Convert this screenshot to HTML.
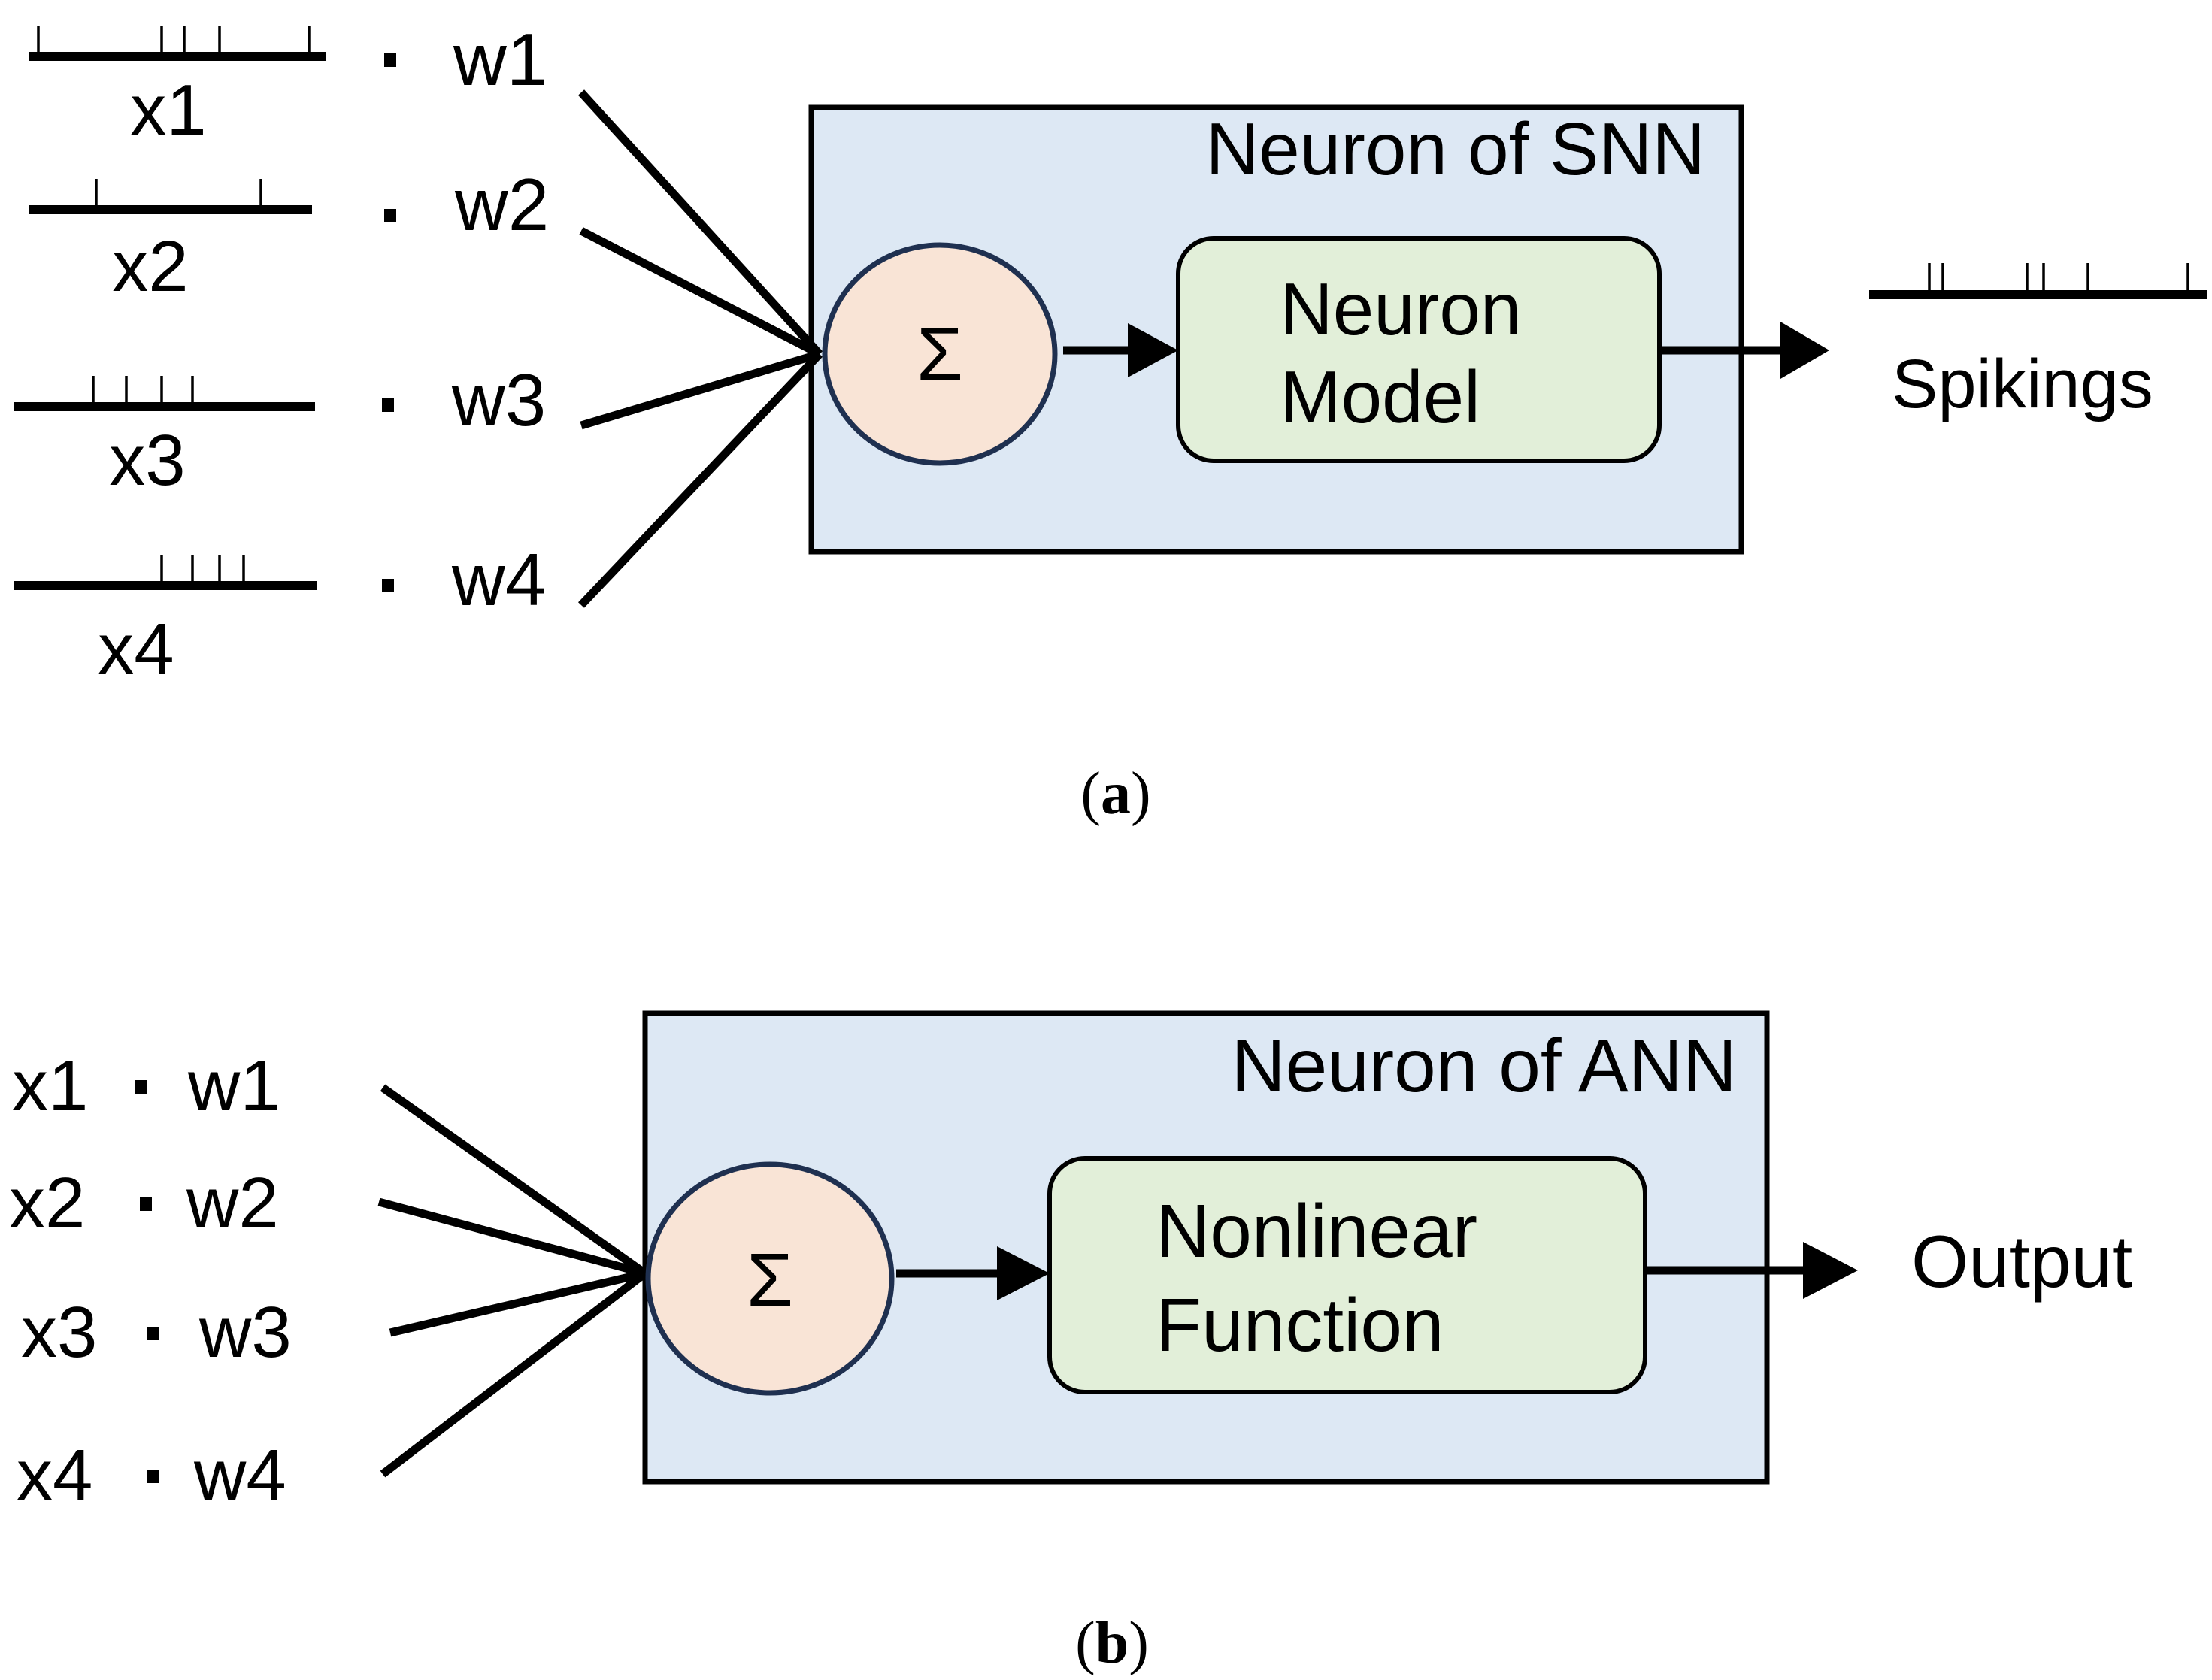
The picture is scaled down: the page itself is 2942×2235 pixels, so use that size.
<!DOCTYPE html>
<html><head><style>html,body{margin:0;padding:0;background:#fff}</style></head>
<body>
<svg width="2942" height="2230" viewBox="0 0 2942 2230" xmlns="http://www.w3.org/2000/svg" font-family="'Liberation Sans', sans-serif">
<rect width="2942" height="2230" fill="#fff"/>
<!-- Panel a -->
<g stroke="#000" stroke-width="12" fill="none">
<line x1="38" y1="75" x2="434" y2="75"/>
<line x1="38" y1="279" x2="415" y2="279"/>
<line x1="19" y1="541" x2="419" y2="541"/>
<line x1="19" y1="779" x2="422" y2="779"/>
<line x1="2486" y1="392" x2="2936" y2="392"/>
</g>
<g stroke="#000" stroke-width="3.5">
<path d="M51 75V34M215 75V34M245 75V34M292 75V34M411 75V34"/>
<path d="M128 279V238M347 279V238"/>
<path d="M124 541V500M168 541V500M215 541V500M256 541V500"/>
<path d="M215 779V738M256 779V738M292 779V738M324 779V738"/>
<path d="M2566 392V350M2584 392V350M2696 392V350M2718 392V350M2777 392V350M2910 392V350"/>
</g>
<g font-size="96" text-anchor="middle">
<text x="224" y="179">x1</text>
<text x="200" y="387">x2</text>
<text x="196" y="645">x3</text>
<text x="181" y="896">x4</text>
</g>
<g fill="#000">
<rect x="511" y="71" width="16" height="18"/>
<rect x="511" y="278" width="16" height="18"/>
<rect x="508" y="530" width="16" height="18"/>
<rect x="508" y="770" width="16" height="18"/>
</g>
<g font-size="98">
<text x="603" y="113">w1</text>
<text x="605" y="306">w2</text>
<text x="601" y="566">w3</text>
<text x="601" y="805">w4</text>
</g>
<rect x="1079" y="143" width="1237" height="591" fill="#dde8f4" stroke="#000" stroke-width="7"/>
<g stroke="#000" stroke-width="11" stroke-linecap="butt">
<line x1="773" y1="123" x2="1090" y2="471"/>
<line x1="773" y1="307" x2="1090" y2="471"/>
<line x1="773" y1="566" x2="1090" y2="471"/>
<line x1="773" y1="805" x2="1090" y2="471"/>
</g>
<text x="2268" y="232" font-size="98" text-anchor="end">Neuron of SNN</text>
<ellipse cx="1250" cy="471" rx="153" ry="145" fill="#f9e4d6" stroke="#1f3050" stroke-width="7"/>
<text x="1250" y="505" font-size="100" text-anchor="middle">Σ</text>
<path d="M1414 466H1510" stroke="#000" stroke-width="11"/>
<path d="M1500 430L1567 466L1500 502z" fill="#000"/>
<rect x="1567" y="317" width="640" height="296" rx="47" fill="#e2efd9" stroke="#000" stroke-width="6"/>
<text x="1702" y="445" font-size="98">Neuron</text>
<text x="1702" y="562" font-size="98">Model</text>
<path d="M2207 466H2380" stroke="#000" stroke-width="11"/>
<path d="M2368 428L2433 466L2368 504z" fill="#000"/>
<text x="2516" y="542" font-size="92">Spikings</text>
<text x="1484" y="1082" font-size="80" text-anchor="middle" font-family="'Liberation Serif', serif">(<tspan font-weight="bold">a</tspan>)</text>
<!-- Panel b -->
<rect x="858" y="1348" width="1492" height="623" fill="#dde8f4" stroke="#000" stroke-width="7"/>
<g stroke="#000" stroke-width="11">
<line x1="509" y1="1447" x2="858" y2="1694"/>
<line x1="504" y1="1599" x2="858" y2="1694"/>
<line x1="519" y1="1773" x2="858" y2="1694"/>
<line x1="509" y1="1961" x2="858" y2="1694"/>
</g>
<g font-size="96">
<text x="16" y="1477">x1</text>
<text x="12" y="1633">x2</text>
<text x="28" y="1805">x3</text>
<text x="22" y="1995">x4</text>
<text x="250" y="1477">w1</text>
<text x="248" y="1633">w2</text>
<text x="265" y="1805">w3</text>
<text x="258" y="1995">w4</text>
</g>
<g fill="#000">
<rect x="180" y="1437" width="16" height="18"/>
<rect x="186" y="1593" width="16" height="18"/>
<rect x="196" y="1765" width="16" height="18"/>
<rect x="196" y="1955" width="16" height="18"/>
</g>
<text x="2310" y="1452" font-size="100" text-anchor="end">Neuron of ANN</text>
<ellipse cx="1024" cy="1701" rx="162" ry="152" fill="#f9e4d6" stroke="#1f3050" stroke-width="7"/>
<text x="1024" y="1737" font-size="100" text-anchor="middle">Σ</text>
<path d="M1192 1694H1340" stroke="#000" stroke-width="11"/>
<path d="M1326 1658L1396 1694L1326 1730z" fill="#000"/>
<rect x="1396" y="1541" width="792" height="311" rx="47" fill="#e2efd9" stroke="#000" stroke-width="6"/>
<text x="1537" y="1672" font-size="100">Nonlinear</text>
<text x="1537" y="1797" font-size="100">Function</text>
<path d="M2188 1690H2410" stroke="#000" stroke-width="11"/>
<path d="M2398 1652L2471 1690L2398 1728z" fill="#000"/>
<text x="2542" y="1712" font-size="98">Output</text>
<text x="1479" y="2212" font-size="80" text-anchor="middle" font-family="'Liberation Serif', serif">(<tspan font-weight="bold">b</tspan>)</text>
</svg>
</body></html>
